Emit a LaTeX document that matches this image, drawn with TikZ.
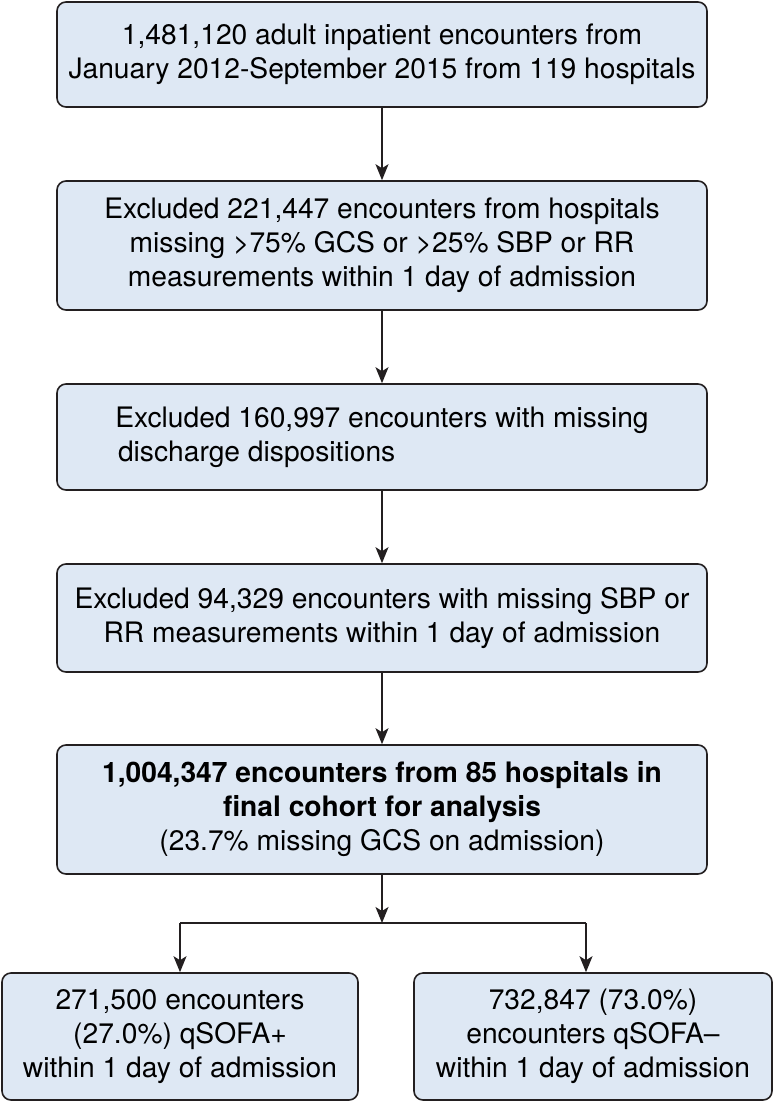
\documentclass[tikz,border=0pt]{standalone}
\usepackage{fontspec}
\setmainfont{TeX Gyre Heros}
\usetikzlibrary{arrows.meta}
\definecolor{boxfill}{HTML}{DEE8F4}
\definecolor{boxline}{HTML}{231F20}
\begin{document}
\begin{tikzpicture}[x=1pt,y=1pt,
  box/.style={draw=boxline, fill=boxfill, line width=1.6pt, rounded corners=9pt,
    inner sep=0pt, align=center, font=\fontsize{28.2}{34}\selectfont},
  conn/.style={draw=boxline, line width=1.5pt},
  arr/.style={conn, -{Stealth[length=16pt,width=13pt,inset=4pt]}}]
\useasboundingbox (0,0) rectangle (773,-1102);
\node[box, minimum width=650pt, minimum height=105pt] (b1) at (382,-54.5)
  {1,481,120 adult inpatient encounters from\\January 2012-September 2015 from 119 hospitals};
\node[box, minimum width=650pt, minimum height=129pt] (b2) at (382,-245.5)
  {Excluded 221,447 encounters from hospitals\\missing >75\% GCS or >25\% SBP or RR\\measurements within 1 day of admission};
\node[box, minimum width=650pt, minimum height=106pt] (b3) at (382,-437)
  {Excluded 160,997 encounters with missing\\discharge dispositions\phantom{missing missing mis}};
\node[box, minimum width=650pt, minimum height=108pt] (b4) at (382,-618)
  {Excluded 94,329 encounters with missing SBP or\\RR measurements within 1 day of admission};
\node[box, minimum width=650pt, minimum height=129pt] (b5) at (382,-809.5)
  {\textbf{1,004,347 encounters from 85 hospitals in}\\\textbf{final cohort for analysis}\\(23.7\% missing GCS on admission)};
\node[box, minimum width=356pt, minimum height=127pt] (b6) at (180,-1036.5)
  {271,500 encounters\\(27.0\%) qSOFA+\\within 1 day of admission};
\node[box, minimum width=358pt, minimum height=127pt] (b7) at (593,-1036.5)
  {732,847 (73.0\%)\\encounters qSOFA–\\within 1 day of admission};
\coordinate (j) at (382,-923);
\coordinate (jl) at (180,-923);
\coordinate (jr) at (586,-923);
\draw[arr] (b1) -- (b2);
\draw[arr] (b2) -- (b3);
\draw[arr] (b3) -- (b4);
\draw[arr] (b4) -- (b5);
\draw[arr] (b5) -- (j);
\draw[conn] (jl) -- (jr);
\draw[arr] (jl) -- (b6.north -| jl);
\draw[arr] (jr) -- (b7.north -| jr);
\end{tikzpicture}
\end{document}
